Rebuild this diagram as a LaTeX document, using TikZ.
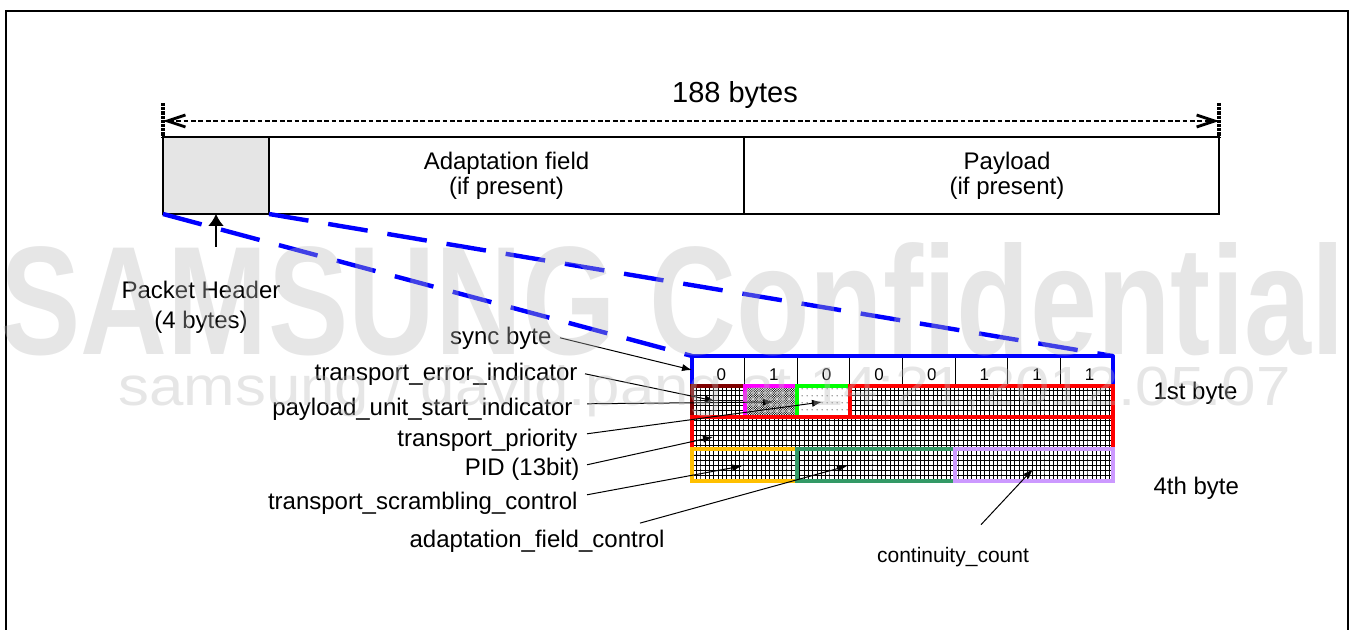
\documentclass[tikz,border=0pt]{standalone}
\usepackage{fontspec}
\setmainfont{Liberation Sans}
\usepackage{graphicx}
\usetikzlibrary{arrows.meta,patterns}

\definecolor{tsbrown}{RGB}{128,0,0}
\definecolor{tsmagenta}{RGB}{255,0,255}
\definecolor{tsgreen}{RGB}{0,255,0}
\definecolor{tsred}{RGB}{255,0,0}
\definecolor{tsorange}{RGB}{255,192,0}
\definecolor{tssea}{RGB}{51,153,102}
\definecolor{tslav}{RGB}{204,153,255}

%% fine grid hatch of the header bits
\pgfdeclarepatternformonly{bitgrid}{\pgfqpoint{-0.3pt}{-0.3pt}}{\pgfqpoint{2.5pt}{2.8pt}}{\pgfqpoint{2.15pt}{2.5pt}}{%
  \pgfsetlinewidth{0.45pt}%
  \pgfpathmoveto{\pgfqpoint{0pt}{-0.3pt}}\pgfpathlineto{\pgfqpoint{0pt}{2.8pt}}%
  \pgfpathmoveto{\pgfqpoint{-0.3pt}{0pt}}\pgfpathlineto{\pgfqpoint{2.5pt}{0pt}}%
  \pgfusepath{stroke}}
%% dense stipple
\pgfdeclarepatternformonly{stipple}{\pgfqpoint{-0.1pt}{-0.1pt}}{\pgfqpoint{1.3pt}{1.3pt}}{\pgfqpoint{1.2pt}{1.2pt}}{%
  \pgfpathcircle{\pgfqpoint{0.3pt}{0.3pt}}{0.34pt}%
  \pgfpathcircle{\pgfqpoint{0.9pt}{0.9pt}}{0.34pt}%
  \pgfusepath{fill}}
%% sparse dotted rows
\pgfdeclarepatternformonly{dotrows}{\pgfqpoint{0pt}{0pt}}{\pgfqpoint{2.5pt}{3.5pt}}{\pgfqpoint{2.5pt}{3.5pt}}{%
  \pgfpathcircle{\pgfqpoint{1.25pt}{1.75pt}}{0.3pt}%
  \pgfusepath{fill}}

\begin{document}
\begin{tikzpicture}[x=0.5pt, y=-0.5pt, line width=0.5pt,
	>={Latex[length=5pt,width=3.6pt]},
	lbl/.style    = {font=\fontsize{12}{14}\selectfont, inner sep=0pt},
	bitnum/.style = {font=\fontsize{8.5}{10}\selectfont, inner sep=0pt, anchor=base},
	pkt/.style    = {draw, line width=1pt, minimum height=38.5pt, inner sep=0pt, outer sep=0pt},
	lead/.style   = {->, line width=0.5pt},
	zoomline/.style = {blue, line width=2.2pt, dash pattern=on 20pt off 10pt},
	endbar/.style = {line width=2.2pt, dash pattern=on 1.6pt off 0.5pt},
	cellbd/.style = {line width=2pt},
	wmark/.style  = {inner sep=0pt, text=black!28, opacity=0.35},
	]
	
	%% ── Frame ────────────────────────────────────────────────────────────────
	\useasboundingbox (0,0) rectangle (1353,630);
	\draw[line width=1.3pt] (6,630) -- (6,11) -- (1348,11) -- (1348,630);
	
	%% ── Packet (188 bytes) ───────────────────────────────────────────────────
	\coordinate (dimL) at (163,121);
	\coordinate (dimR) at (1219,121);
	\draw[line width=1.4pt, dash pattern=on 2.4pt off 1.3pt,
	{Straight Barb[length=9pt,width=6pt]}-{Straight Barb[length=9pt,width=6pt]}]
	(dimL) -- (dimR);
	\draw[endbar] (163,103) -- (163,137);
	\draw[endbar] (1219,103) -- (1219,137);
	\node[font=\fontsize{14.5}{17}\selectfont, inner sep=0pt, anchor=base] (total) at (735,103) {188 bytes};
	
	\node[pkt, fill=black!10, minimum width=53pt] (hdr) at (216,175.5) {};
	\node[pkt, minimum width=237.5pt, align=center, font=\fontsize{12}{12.5}\selectfont] (adapt) at (506.5,175.5) {Adaptation field\\(if present)};
	\node[pkt, minimum width=237.5pt] (pay) at (981.5,175.5) {};
	\node[lbl, align=center, font=\fontsize{12}{12.5}\selectfont] (payTxt) at (1007,176) {Payload\\(if present)};
	
	%% header arrow
	\node[lbl, align=center, font=\fontsize{12}{15}\selectfont] (phdr) at (201,307) {Packet Header\\(4 bytes)};
	\draw[->, line width=1pt, >={Latex[length=6pt,width=8pt]}] ([yshift=-16.5pt]hdr.south) -- (hdr.south);
	
	%% ── Header bits ──────────────────────────────────────────────────────────
	\def\gx{692}  \def\gr{1113}  \def\bw{52.625}
	\def\ya{356}  \def\yb{386}   \def\yc{417}   \def\yd{449}   \def\ye{481}
	\coordinate (gridNW) at (\gx,\ya);
	\coordinate (gridNE) at (\gr,\ya);
	
	%% zoom lines
	\draw[zoomline] (hdr.south west) -- (gridNW);
	\draw[zoomline] (hdr.south east) -- (gridNE);
	
	%% 1st byte: sync byte 0x47
	\foreach \i in {1,...,7}
	\draw[line width=0.6pt] (\gx+\i*\bw,\ya) -- (\gx+\i*\bw,\yb);
	\foreach \b [count=\i from 0] in {0,1,0,0,0,1,1,1}
	\node[bitnum] (bit\i) at (\gx+\i*\bw+0.5*\bw+3,380) {\b};
	\draw[blue, line width=2pt, line join=round] (\gx,\yb) -- (gridNW) -- (gridNE) -- (\gr,\yb);
	
	%% 2nd byte
	\draw[cellbd, draw=tsbrown, pattern=bitgrid] (\gx,\yb) rectangle (\gx+\bw,\yc);
	\draw[cellbd, draw=tsmagenta, pattern=stipple] (\gx+\bw,\yb) rectangle (\gx+2*\bw,\yc);
	\draw[cellbd, draw=tsgreen, pattern=dotrows] (\gx+2*\bw,\yb) rectangle (\gx+3*\bw,\yc);
	\draw[cellbd, draw=tsred, pattern=bitgrid] (\gx+3*\bw,\yb) rectangle (\gr,\yc);
	%% 3rd byte
	\draw[cellbd, draw=tsred, pattern=bitgrid] (\gx,\yc) rectangle (\gr,\yd);
	%% 4th byte
	\draw[cellbd, draw=tsorange, pattern=bitgrid] (\gx,\yd) rectangle (\gx+2*\bw,\ye);
	\draw[cellbd, draw=tssea, pattern=bitgrid] (\gx+2*\bw,\yd) rectangle (\gx+5*\bw,\ye);
	\draw[cellbd, draw=tslav, pattern=bitgrid] (\gx+5*\bw,\yd) rectangle (\gr,\ye);
	
	\node[lbl, anchor=base west] (first) at (1153,399) {1st byte};
	\node[lbl, anchor=base west] (fourth) at (1153,494) {4th byte};
	
	%% ── Field names ──────────────────────────────────────────────────────────
	\node[lbl, anchor=base east] (sync) at (552,344) {sync byte};
	\node[lbl, anchor=base east] (tei) at (578,380) {transport\_error\_indicator};
	\node[lbl, anchor=base east] (pusi) at (573,415) {payload\_unit\_start\_indicator};
	\node[lbl, anchor=base east] (tprio) at (578,446) {transport\_priority};
	\node[lbl, anchor=base east] (pid) at (580,475) {PID (13bit)};
	\node[lbl, anchor=base east] (tsc) at (578,509) {transport\_scrambling\_control};
	\node[lbl, anchor=base east] (afc) at (665,547) {adaptation\_field\_control};
	\node[font=\fontsize{10.5}{12}\selectfont, inner sep=0pt, anchor=base] (cc) at (953,562) {continuity\_count};
	
	\coordinate (tSync) at (692,370);
	\coordinate (tTei) at (715,401);
	\coordinate (tPusi) at (773,402);
	\coordinate (tTprio) at (822,402);
	\coordinate (tPid) at (713,437);
	\coordinate (tTsc) at (742,466);
	\coordinate (tAfc) at (847,466);
	\coordinate (tCc) at (1033,469);
	
	\draw[lead] ([xshift=4pt]sync.east) -- (tSync);
	\draw[lead] ([xshift=3.5pt]tei.east) -- (tTei);
	\draw[lead] ([xshift=7pt,yshift=2.5pt]pusi.east) -- (tPusi);
	\draw[lead] ([xshift=4.5pt,yshift=3pt]tprio.east) -- (tTprio);
	\draw[lead] ([xshift=3.5pt,yshift=2pt]pid.east) -- (tPid);
	\draw[lead] ([xshift=4.5pt,yshift=4pt]tsc.east) -- (tTsc);
	\draw[lead] ([xshift=-12.5pt,yshift=3pt]afc.north east) -- (tAfc);
	\draw[lead] ([xshift=14pt,yshift=10.8pt]cc.north) -- (tCc);
	
	%% ── Watermark ────────────────────────────────────────────────────────────
	\node[wmark, anchor=south west, font=\bfseries] (wmA) at (0,357) {\resizebox{672pt}{56pt}{SAMSUNG Confidential}};
	\node[wmark, anchor=base west] (wmB) at (118,405) {\resizebox{586pt}{20pt}{samsung / david.pang at 14:21,2012.05.07}};
	
\end{tikzpicture}
\end{document}
